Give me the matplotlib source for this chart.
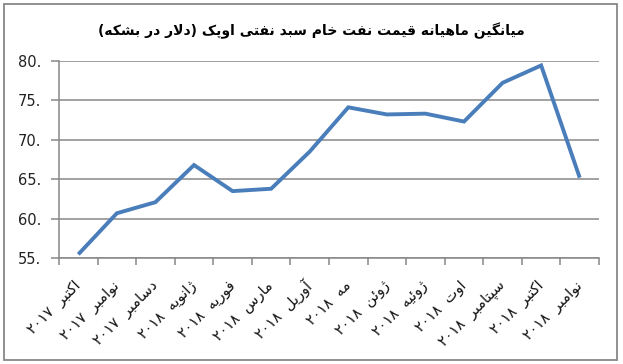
import matplotlib
matplotlib.use("Agg")
import matplotlib.pyplot as plt
from matplotlib.patches import Rectangle

# ---------------- data ----------------
months = ["اکتبر", "نوامبر", "دسامبر", "ژانویه", "فوریه", "مارس", "آوریل",
          "مه", "ژوئن", "ژوئیه", "اوت", "سپتامبر", "اکتبر", "نوامبر"]
years = ["۲۰۱۷", "۲۰۱۷", "۲۰۱۷", "۲۰۱۸", "۲۰۱۸", "۲۰۱۸", "۲۰۱۸",
         "۲۰۱۸", "۲۰۱۸", "۲۰۱۸", "۲۰۱۸", "۲۰۱۸", "۲۰۱۸", "۲۰۱۸"]
prices = [55.5, 60.7, 62.1, 66.8, 63.5, 63.8, 68.5,
          74.1, 73.2, 73.3, 72.3, 77.2, 79.4, 65.2]
y_ticks = [55, 60, 65, 70, 75, 80]
y_tick_labels = ["55.", "60.", "65.", "70.", "75.", "80."]
title = "میانگین ماهیانه قیمت نفت خام سبد نفتی اوپک (دلار در بشکه)"

# ------------- simple Persian shaping -------------
FORMS = {
    'ا': ('\uFE8D', '\uFE8E', None, None),
    'آ': ('\uFE81', '\uFE82', None, None),
    'ب': ('\uFE8F', '\uFE90', '\uFE91', '\uFE92'),
    'پ': ('\uFB56', '\uFB57', '\uFB58', '\uFB59'),
    'ت': ('\uFE95', '\uFE96', '\uFE97', '\uFE98'),
    'ج': ('\uFE9D', '\uFE9E', '\uFE9F', '\uFEA0'),
    'خ': ('\uFEA5', '\uFEA6', '\uFEA7', '\uFEA8'),
    'د': ('\uFEA9', '\uFEAA', None, None),
    'ر': ('\uFEAD', '\uFEAE', None, None),
    'ز': ('\uFEAF', '\uFEB0', None, None),
    'ژ': ('\uFB8A', '\uFB8B', None, None),
    'س': ('\uFEB1', '\uFEB2', '\uFEB3', '\uFEB4'),
    'ش': ('\uFEB5', '\uFEB6', '\uFEB7', '\uFEB8'),
    'ف': ('\uFED1', '\uFED2', '\uFED3', '\uFED4'),
    'ق': ('\uFED5', '\uFED6', '\uFED7', '\uFED8'),
    'ک': ('\uFB8E', '\uFB8F', '\uFB90', '\uFB91'),
    'گ': ('\uFB92', '\uFB93', '\uFB94', '\uFB95'),
    'ل': ('\uFEDD', '\uFEDE', '\uFEDF', '\uFEE0'),
    'م': ('\uFEE1', '\uFEE2', '\uFEE3', '\uFEE4'),
    'ن': ('\uFEE5', '\uFEE6', '\uFEE7', '\uFEE8'),
    'ه': ('\uFEE9', '\uFEEA', '\uFEEB', '\uFEEC'),
    'و': ('\uFEED', '\uFEEE', None, None),
    'ی': ('\uFBFC', '\uFBFD', '\uFBFE', '\uFBFF'),
    'ئ': ('\uFE89', '\uFE8A', '\uFE8B', '\uFE8C'),
}


def dual(c):
    return c in FORMS and FORMS[c][2] is not None


def shape(text):
    out = []
    i = 0
    n = len(text)
    while i < n:
        c = text[i]
        if c not in FORMS:
            out.append(c)
            i += 1
            continue
        prev = text[i - 1] if i > 0 else ''
        jp = dual(prev)
        if c == 'ل' and i + 1 < n and text[i + 1] in ('ا', 'آ'):
            lig = ('\uFEFB', '\uFEFC') if text[i + 1] == 'ا' else ('\uFEF5', '\uFEF6')
            out.append(lig[1] if jp else lig[0])
            i += 2
            continue
        nxt = text[i + 1] if i + 1 < n else ''
        jn = dual(c) and nxt in FORMS
        iso, fin, ini, med = FORMS[c]
        if jp and jn:
            g = med
        elif jp:
            g = fin
        elif jn:
            g = ini
        else:
            g = iso
        out.append(g)
        i += 1
    return out


def visual(text):
    chars = shape(text)[::-1]
    swap = {'(': ')', ')': '('}
    return ''.join(swap.get(c, c) for c in chars)


labels = [y + "  " + visual(m) for m, y in zip(months, years)]

# ---------------- figure ----------------
plt.rcParams['font.family'] = ['DejaVu Sans']
fig = plt.figure(figsize=(6.23, 3.64), dpi=100)
fig.patch.set_facecolor('white')
fig.add_artist(Rectangle((3.5 / 623, 4 / 364), 613 / 623, 356 / 364,
                         transform=fig.transFigure, fill=False,
                         edgecolor='#888888', linewidth=1.3))

ax = fig.add_axes([59 / 623, 1 - 258.3 / 364, 540 / 623, (258.3 - 60.7) / 364])
x = list(range(len(prices)))
ax.plot(x, prices, color='#4a7ebb', linewidth=2.8, solid_capstyle='butt',
        solid_joinstyle='miter')

ax.set_xlim(-0.5, len(prices) - 0.5)
ax.set_ylim(55, 80)
ax.set_yticks(y_ticks)
ax.set_yticklabels(y_tick_labels, fontsize=10.5, color='#222222')
ax.yaxis.grid(True, color='#878787', linewidth=1.1)
ax.set_axisbelow(True)

ax.set_xticks([i - 0.5 for i in range(len(prices) + 1)])
ax.set_xticklabels([])
ax.set_xticks(x, labels, minor=True)
ax.tick_params(axis='x', which='minor', length=0, pad=18)
ax.tick_params(axis='x', which='major', length=5, color='#878787', width=1.1)
ax.tick_params(axis='y', length=6, color='#878787', width=1.1, pad=7)
for lab in ax.get_xticklabels(minor=True):
    lab.set_rotation(45)
    lab.set_rotation_mode('anchor')
    lab.set_ha('right')
    lab.set_va('center')
    lab.set_fontsize(10.5)
    lab.set_color('#111111')

for s in ['top', 'right']:
    ax.spines[s].set_visible(False)
for s in ['left', 'bottom']:
    ax.spines[s].set_color('#878787')
    ax.spines[s].set_linewidth(1.1)

fig.text(0.5, 1 - 31 / 364, visual(title), ha='center', va='center',
         fontsize=10, fontweight='bold', color='black')

fig.savefig('out.png', dpi=100, facecolor='white')
